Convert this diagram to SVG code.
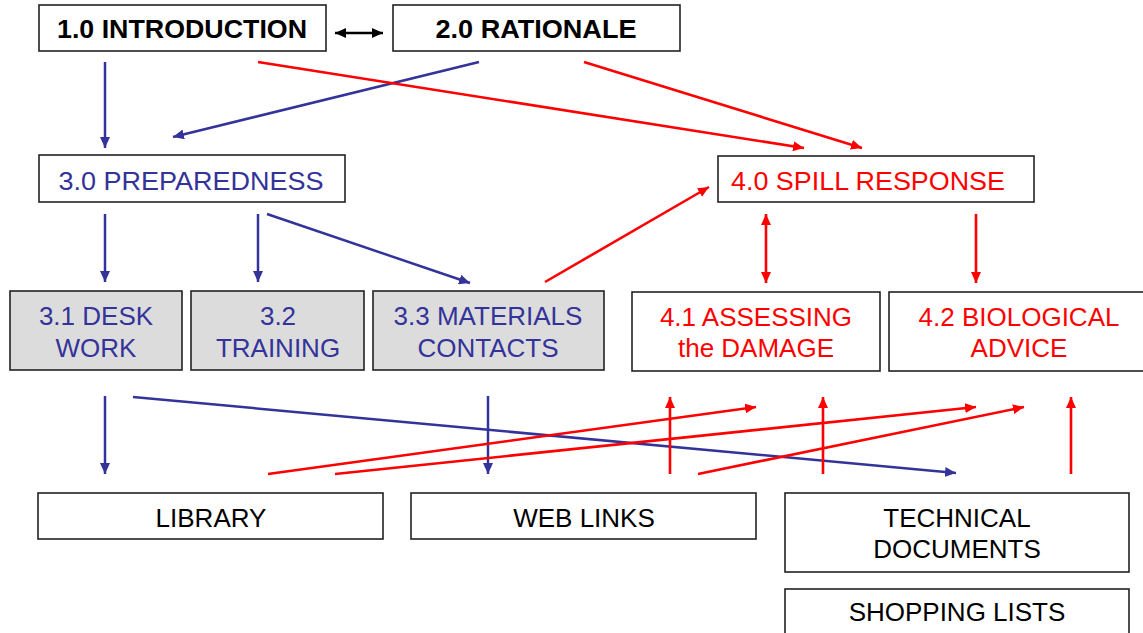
<svg xmlns="http://www.w3.org/2000/svg" width="1143" height="633" viewBox="0 0 1143 633">
<style>
  .box { fill: #ffffff; stroke: #222222; stroke-width: 1.6; }
  .grey { fill: #dcdcdc; stroke: #222222; stroke-width: 1.6; }
  text { font-family: "Liberation Sans", Arial, sans-serif; font-size: 26px; text-anchor: middle; }
  .head { font-weight: bold; fill: #000000; }
  .blueT { fill: #333399; }
  .redT { fill: #ff0000; }
  .blackT { fill: #000000; }
  .lb { stroke: #333399; stroke-width: 2.5; fill: none; marker-end: url(#ab); }
  .lr { stroke: #ff0000; stroke-width: 2.6; fill: none; marker-end: url(#ar); }
  .lrr { stroke: #ff0000; stroke-width: 2.6; fill: none; marker-end: url(#ar); marker-start: url(#ar); }
  .lk { stroke: #000000; stroke-width: 2.5; fill: none; marker-end: url(#ak); marker-start: url(#ak); }
</style>
<defs>
  <marker id="ab" markerUnits="userSpaceOnUse" markerWidth="12" markerHeight="10" refX="11" refY="5" orient="auto-start-reverse"><path d="M0,0 L11,5 L0,10 z" fill="#333399"/></marker>
  <marker id="ar" markerUnits="userSpaceOnUse" markerWidth="12" markerHeight="10" refX="11" refY="5" orient="auto-start-reverse"><path d="M0,0 L11,5 L0,10 z" fill="#ff0000"/></marker>
  <marker id="ak" markerUnits="userSpaceOnUse" markerWidth="12" markerHeight="10" refX="11" refY="5" orient="auto-start-reverse"><path d="M0,0 L11,5 L0,10 z" fill="#000000"/></marker>
</defs>
<rect width="1143" height="633" fill="#ffffff"/>

<g id="connectors">
  <line class="lk" x1="335" y1="33" x2="383" y2="33"/>
  <line class="lb" x1="105" y1="62" x2="105" y2="148"/>
  <line class="lb" x1="479" y1="62" x2="173" y2="137"/>
  <line class="lr" x1="258" y1="62" x2="804" y2="148"/>
  <line class="lr" x1="584" y1="62" x2="862" y2="148"/>
  <line class="lb" x1="105" y1="214" x2="105" y2="282"/>
  <line class="lb" x1="258" y1="214" x2="258" y2="282"/>
  <line class="lb" x1="267" y1="214" x2="470" y2="283"/>
  <line class="lr" x1="545" y1="282" x2="709" y2="187"/>
  <line class="lrr" x1="766" y1="214" x2="766" y2="283"/>
  <line class="lr" x1="976" y1="214" x2="976" y2="283"/>
  <line class="lb" x1="105" y1="396" x2="105" y2="474"/>
  <line class="lb" x1="133" y1="397" x2="956" y2="473"/>
  <line class="lb" x1="488" y1="396" x2="488" y2="474"/>
  <line class="lr" x1="268" y1="474" x2="756" y2="407"/>
  <line class="lr" x1="335" y1="474" x2="976" y2="407"/>
  <line class="lr" x1="698" y1="474" x2="1024" y2="407"/>
  <line class="lr" x1="670" y1="474" x2="670" y2="397"/>
  <line class="lr" x1="823" y1="474" x2="823" y2="397"/>
  <line class="lr" x1="1071" y1="474" x2="1071" y2="397"/>
</g>

<g id="intro">
  <rect class="box" x="39" y="5" width="287" height="46"/>
  <text class="head" x="182" y="38" textLength="250" lengthAdjust="spacingAndGlyphs">1.0 INTRODUCTION</text>
</g>
<g id="rationale">
  <rect class="box" x="393" y="5" width="287" height="46"/>
  <text class="head" x="536" y="38" textLength="201" lengthAdjust="spacingAndGlyphs">2.0 RATIONALE</text>
</g>
<g id="preparedness">
  <rect class="box" x="39" y="155" width="306" height="47"/>
  <text class="blueT" x="191" y="190" textLength="265" lengthAdjust="spacingAndGlyphs">3.0 PREPAREDNESS</text>
</g>
<g id="spill">
  <rect class="box" x="718" y="156" width="316" height="46"/>
  <text class="redT" x="868" y="190" textLength="274" lengthAdjust="spacingAndGlyphs">4.0 SPILL RESPONSE</text>
</g>
<g id="desk">
  <rect class="grey" x="10" y="291" width="172" height="79"/>
  <text class="blueT" x="96" y="325">3.1 DESK</text>
  <text class="blueT" x="96" y="357">WORK</text>
</g>
<g id="training">
  <rect class="grey" x="191" y="291" width="173" height="79"/>
  <text class="blueT" x="278" y="325">3.2</text>
  <text class="blueT" x="278" y="357">TRAINING</text>
</g>
<g id="materials">
  <rect class="grey" x="373" y="291" width="231" height="79"/>
  <text class="blueT" x="488" y="325">3.3 MATERIALS</text>
  <text class="blueT" x="488" y="357">CONTACTS</text>
</g>
<g id="assessing">
  <rect class="box" x="632" y="292" width="248" height="79"/>
  <text class="redT" x="756" y="326">4.1 ASSESSING</text>
  <text class="redT" x="756" y="357">the DAMAGE</text>
</g>
<g id="biological">
  <rect class="box" x="889" y="292" width="258" height="79"/>
  <text class="redT" x="1019" y="326">4.2 BIOLOGICAL</text>
  <text class="redT" x="1019" y="357">ADVICE</text>
</g>
<g id="library">
  <rect class="box" x="38" y="493" width="345" height="46"/>
  <text class="blackT" x="211" y="527">LIBRARY</text>
</g>
<g id="weblinks">
  <rect class="box" x="411" y="493" width="345" height="46"/>
  <text class="blackT" x="584" y="527">WEB LINKS</text>
</g>
<g id="technical">
  <rect class="box" x="785" y="493" width="344" height="79"/>
  <text class="blackT" x="957" y="527">TECHNICAL</text>
  <text class="blackT" x="957" y="558">DOCUMENTS</text>
</g>
<g id="shopping">
  <rect class="box" x="785" y="589" width="344" height="60"/>
  <text class="blackT" x="957" y="621">SHOPPING LISTS</text>
</g>
</svg>
